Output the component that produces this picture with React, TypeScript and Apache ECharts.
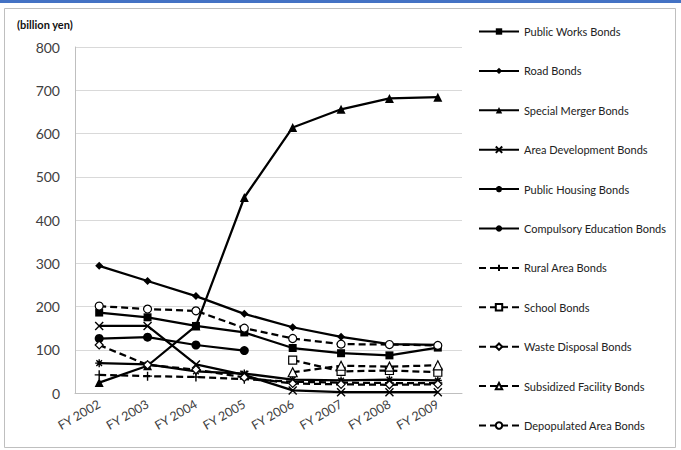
import React, { useEffect, useRef } from "react";
import * as echarts from "echarts";

// Fiscal years on the category axis
const categories = ["FY 2002", "FY 2003", "FY 2004", "FY 2005", "FY 2006", "FY 2007", "FY 2008", "FY 2009"];

// Outstanding amounts per bond type (billion yen); null = not issued that year
const publicWorks = [186, 175, 155, 140, 104, 92, 87, 105];
const road = [294, 259, 224, 183, 152, 130, 113, 111];
const specialMerger = [24, 63, 155, 452, 614, 656, 681, 684];
const areaDevelopment = [155, 155, 66, 42, 6, 2, 2, 2];
const publicHousing = [69, 66, 50, 45, 31, 29, 31, 29];
const compulsoryEducation = [126, 129, 111, 98, null, null, null, null];
const ruralArea = [42, 39, 37, 32, 26, 24, 23, 23];
const school = [null, null, null, null, 76, 50, 52, 48];
const wasteDisposal = [111, 65, 54, 36, 22, 20, 19, 20];
const subsidizedFacility = [null, null, null, null, 48, 63, 61, 64];
const depopulatedArea = [201, 194, 190, 150, 126, 113, 112, 110];

const FONT = "Lato, 'Noto Sans', sans-serif";

const X_MARK = "path://M0,0L10,10M10,0L0,10";
const STAR_MARK = "path://M0,5L10,5M1.5,1.5L8.5,8.5M8.5,1.5L1.5,8.5M5,0L5,10";
const PLUS_MARK = "path://M0,5L10,5M5,0L5,10";

type Mark = {
  name: string;
  data: (number | null)[];
  symbol: string;
  size: number;
  dashed: boolean;
  hollow: boolean;
  stroked?: boolean;
};

const seriesDefs: Mark[] = [
  { name: "Public Works Bonds", data: publicWorks, symbol: "rect", size: 8, dashed: false, hollow: false },
  { name: "Road Bonds", data: road, symbol: "diamond", size: 8, dashed: false, hollow: false },
  { name: "Special Merger Bonds", data: specialMerger, symbol: "triangle", size: 9, dashed: false, hollow: false },
  { name: "Area Development Bonds", data: areaDevelopment, symbol: X_MARK, size: 8, dashed: false, hollow: false, stroked: true },
  { name: "Public Housing Bonds", data: publicHousing, symbol: STAR_MARK, size: 8, dashed: false, hollow: false, stroked: true },
  { name: "Compulsory Education Bonds", data: compulsoryEducation, symbol: "circle", size: 9, dashed: false, hollow: false },
  { name: "Rural Area Bonds", data: ruralArea, symbol: PLUS_MARK, size: 9, dashed: true, hollow: false, stroked: true },
  { name: "School Bonds", data: school, symbol: "rect", size: 8, dashed: true, hollow: true },
  { name: "Waste Disposal Bonds", data: wasteDisposal, symbol: "diamond", size: 8, dashed: true, hollow: true },
  { name: "Subsidized Facility Bonds", data: subsidizedFacility, symbol: "triangle", size: 9, dashed: true, hollow: true },
  { name: "Depopulated Area Bonds", data: depopulatedArea, symbol: "circle", size: 8, dashed: true, hollow: true },
];

export default function App() {
  const ref = useRef<HTMLDivElement>(null);

  useEffect(() => {
    document.body.style.margin = "0";
    if (!ref.current) return;
    const chart = echarts.init(ref.current, undefined, { renderer: "svg" });

    const series = seriesDefs.map((s) => ({
      name: s.name,
      type: "line",
      data: s.data,
      symbol: s.symbol,
      symbolSize: s.size,
      showSymbol: true,
      connectNulls: false,
      lineStyle: {
        color: "#000",
        width: 2.25,
        type: s.dashed ? [7, 4] : "solid",
      },
      itemStyle: s.hollow
        ? { color: "#fff", borderColor: "#000", borderWidth: 1.2 }
        : s.stroked
        ? { color: "#000", borderColor: "#000", borderWidth: 1.4 }
        : { color: "#000", borderColor: "#000", borderWidth: 0 },
      emphasis: { disabled: true },
    }));

    chart.setOption({
      animation: false,
      backgroundColor: "#fff",
      textStyle: { fontFamily: FONT },
      grid: { left: 75, top: 47, right: 219, bottom: 57, containLabel: false },
      graphic: [
        { type: "rect", shape: { x: 0, y: 0, width: 681, height: 3 }, style: { fill: "#4472c4" } },
        {
          type: "rect",
          shape: { x: 4.5, y: 8.5, width: 671, height: 439 },
          style: { fill: "none", stroke: "#bfbfbf", lineWidth: 1 },
        },
        {
          type: "text",
          left: 17,
          top: 19,
          style: { text: "(billion yen)", font: `bold 11px ${FONT}`, fill: "#111" },
        },
      ],
      legend: {
        orient: "vertical",
        left: 473,
        top: 21,
        itemWidth: 40,
        itemHeight: 8,
        itemGap: 28.4,
        textStyle: { fontSize: 11, color: "#222", fontFamily: FONT },
        data: seriesDefs.map((s) => s.name),
      },
      xAxis: {
        type: "category",
        data: categories,
        boundaryGap: true,
        axisLine: { lineStyle: { color: "#bfbfbf", width: 1 } },
        axisTick: { show: false },
        axisLabel: { rotate: 30, margin: 10, fontSize: 12.5, color: "#404040", fontFamily: FONT },
        splitLine: { show: false },
      },
      yAxis: {
        type: "value",
        min: 0,
        max: 800,
        interval: 100,
        axisLine: { show: true, lineStyle: { color: "#bfbfbf", width: 1 } },
        axisTick: { show: false },
        axisLabel: { margin: 15, fontSize: 14, color: "#404040", fontFamily: FONT },
        splitLine: { lineStyle: { color: "#d9d9d9", width: 1 } },
      },
      series,
    });

    return () => chart.dispose();
  }, []);

  return <div ref={ref} style={{ width: 681, height: 450 }} />;
}
